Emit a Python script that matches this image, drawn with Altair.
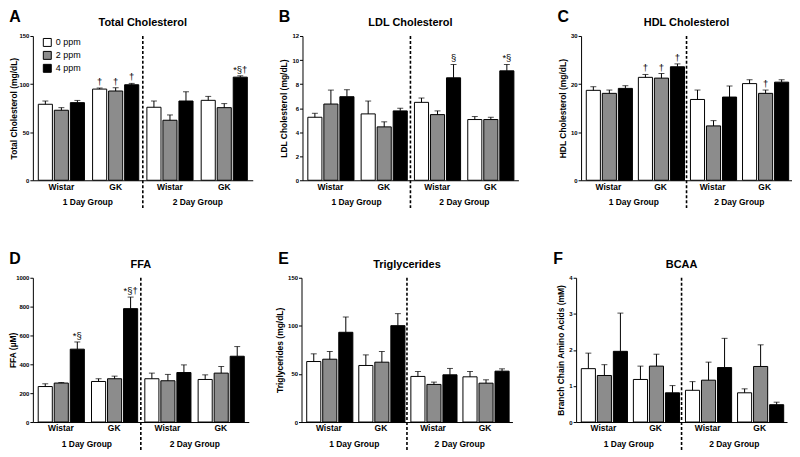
import altair as alt
import pandas as pd

# ---------------- data ----------------
groups = ["W1", "G1", "W2", "G2"]          # Wistar / GK in the 1 Day and 2 Day groups
doses = ["0 ppm", "2 ppm", "4 ppm"]
days = ["1 Day Group", "2 Day Group"]

tc_mean = [79.0, 72.8, 80.7, 94.8, 92.8, 99.3, 75.9, 62.4, 82.4, 83.1, 75.5, 107.2]
tc_upper = [82.4, 75.5, 83.0, 95.9, 96.2, 100.7, 82.4, 67.9, 92.0, 87.2, 79.7, 108.6]
tc_note = ["", "", "", "†", "†", "†", "", "", "", "", "", "*§†"]

ldl_mean = [5.24, 6.34, 6.95, 5.52, 4.44, 5.77, 6.48, 5.46, 8.52, 5.05, 5.05, 9.10]
ldl_upper = [5.57, 7.50, 7.53, 6.59, 4.86, 5.99, 6.84, 5.77, 9.63, 5.30, 5.24, 9.63]
ldl_note = ["", "", "", "", "", "", "", "", "§", "", "", "*§"]

hdl_mean = [18.7, 18.07, 19.1, 21.4, 21.24, 23.6, 16.8, 11.3, 17.3, 20.1, 18.07, 20.4]
hdl_upper = [19.45, 18.76, 19.66, 22.0, 22.2, 24.2, 18.76, 12.4, 19.6, 20.9, 18.76, 20.9]
hdl_note = ["", "", "", "†", "†", "†", "", "", "", "", "†", ""]

ffa_mean = [246, 270, 505, 281, 300, 786, 300, 286, 343, 295, 339, 456]
ffa_upper = [265, 274, 555, 300, 318, 866, 339, 330, 396, 327, 385, 523]
ffa_note = ["", "", "*§", "", "", "*§†", "", "", "", "", "", ""]

tg_mean = [62.9, 65.3, 93.3, 58.8, 62.2, 100.2, 47.4, 39.1, 49.1, 47.0, 40.4, 52.9]
tg_upper = [70.9, 73.3, 109.2, 69.8, 73.3, 112.7, 52.5, 41.5, 55.7, 52.5, 43.9, 55.3]
tg_note = [""] * 12

bcaa_mean = [1.48, 1.29, 1.96, 1.18, 1.55, 0.81, 0.88, 1.16, 1.51, 0.81, 1.54, 0.48]
bcaa_upper = [1.91, 1.59, 3.02, 1.55, 1.88, 1.01, 1.12, 1.66, 2.32, 0.92, 2.14, 0.55]
bcaa_note = [""] * 12

FONT = "Liberation Sans"
H = 145
fill_colors = ["white", "#8c8c8c", "black"]


def panel(letter, title, ytitle, ymax, ystep, means, uppers, notes, width, legend=False, tpad=3):
    rows = []
    i = 0
    for g in groups:
        for d in doses:
            rows.append({"group": g, "dose": d, "mean": means[i], "upper": uppers[i], "note": notes[i]})
            i += 1
    df = pd.DataFrame(rows)

    xscale = alt.Scale(domain=groups, paddingInner=0.15, paddingOuter=0.1)
    xoff = alt.XOffset("dose:N", sort=doses, scale=alt.Scale(domain=doses, paddingInner=0.12))
    yscale = alt.Scale(domain=[0, ymax], nice=False)
    ticks = [ystep * k for k in range(int(round(ymax / ystep)) + 1)]

    x_main = alt.X("group:N", sort=groups, scale=xscale,
                   axis=alt.Axis(title=None,
                                 labelExpr="(datum.value == 'W1' || datum.value == 'W2') ? 'Wistar' : 'GK'",
                                 ticks=False, labelAngle=0, labelFontSize=8.5, labelFontWeight="bold",
                                 labelPadding=2, domainColor="black", labelColor="black"))
    y_axis = alt.Axis(title=ytitle, values=ticks, format="d", grid=False, tickSize=3, labelFontSize=6,
                      labelFontWeight="bold", labelPadding=1, labelOverlap=False,
                      titleFontSize=8.5, titleFontWeight="bold", titlePadding=tpad,
                      domainColor="black", tickColor="black", labelColor="black",
                      titleColor="black")

    if legend:
        leg = alt.Legend(title=None, orient="none", legendX=10, legendY=2, symbolType="square",
                         symbolSize=64, symbolStrokeColor="black", symbolStrokeWidth=1,
                         symbolOpacity=1, labelFontSize=9, labelColor="black", rowPadding=0,
                         labelFont=FONT)
    else:
        leg = None

    base = alt.Chart(df)
    bars = base.mark_bar(stroke="black", strokeWidth=1).encode(
        x=x_main, xOffset=xoff,
        y=alt.Y("mean:Q", scale=yscale, axis=y_axis),
        fill=alt.Fill("dose:N", sort=doses, scale=alt.Scale(domain=doses, range=fill_colors), legend=leg),
    )
    err = base.mark_rule(color="black", strokeWidth=1).encode(
        x=x_main, xOffset=xoff, y=alt.Y("mean:Q", scale=yscale, axis=y_axis), y2="upper:Q")
    cap = base.mark_tick(color="black", thickness=1, size=6).encode(
        x=x_main, xOffset=xoff, y=alt.Y("upper:Q", scale=yscale, axis=y_axis))
    ann = base.mark_text(baseline="bottom", dy=-1, fontSize=9.5, color="black").encode(
        x=x_main, xOffset=xoff, y=alt.Y("upper:Q", scale=yscale, axis=y_axis), text="note:N")
    inner = alt.layer(bars, err, cap, ann)

    dscale = alt.Scale(domain=days, paddingInner=0, paddingOuter=0)
    day_df = pd.DataFrame({"day": days})
    day_text = alt.Chart(day_df).mark_text(fontSize=8.5, fontWeight="bold", baseline="middle",
                                           color="black").encode(
        x=alt.X("day:N", scale=dscale, axis=None), y=alt.value(H + 22), text="day:N")
    split = alt.Chart(pd.DataFrame({"day": [days[1]]})).mark_rule(
        color="black", strokeWidth=1.6, strokeDash=[3, 2]).encode(
        x=alt.X("day:N", scale=dscale, axis=None, bandPosition=0),
        y=alt.value(0), y2=alt.value(H + 28))
    day_layer = alt.layer(day_text, split)

    head = pd.DataFrame({"letter": [letter], "title": [title]})
    let = alt.Chart(head).mark_text(
        fontSize=16, fontWeight="bold", align="center", baseline="middle", color="black").encode(
        text="letter:N", x=alt.value(-18), y=alt.value(-19))
    ttl = alt.Chart(head).mark_text(
        fontSize=11, fontWeight="bold", align="center", baseline="middle", color="black").encode(
        text="title:N", x=alt.value(width / 2), y=alt.value(-13))

    return alt.layer(inner, day_layer, let, ttl).resolve_scale(x="independent").properties(
        width=width, height=H)


A = panel("A", "Total Cholesterol", "Total Cholesterol (mg/dL)", 150, 50, tc_mean, tc_upper, tc_note, 221,
          legend=True, tpad=0)
B = panel("B", "LDL Cholesterol", "LDL Cholesterol (mg/dL)", 12, 2, ldl_mean, ldl_upper, ldl_note, 217)
C = panel("C", "HDL Cholesterol", "HDL Cholesterol (mg/dL)", 30, 10, hdl_mean, hdl_upper, hdl_note, 212)
D = panel("D", "FFA", "FFA (µM)", 1000, 200, ffa_mean, ffa_upper, ffa_note, 217, tpad=-2)
E = panel("E", "Triglycerides", "Triglycerides (mg/dL)", 150, 50, tg_mean, tg_upper, tg_note, 212)
F = panel("F", "BCAA", "Branch Chain Amino Acids (mM)", 4, 1, bcaa_mean, bcaa_upper, bcaa_note, 212)

row1 = alt.hconcat(
    alt.hconcat(A, B, spacing=26).resolve_scale(fill="independent").resolve_legend(fill="independent"),
    C, spacing=39).resolve_scale(fill="independent").resolve_legend(fill="independent")
row2 = alt.hconcat(
    alt.hconcat(D, E, spacing=26).resolve_scale(fill="independent").resolve_legend(fill="independent"),
    F, spacing=41).resolve_scale(fill="independent").resolve_legend(fill="independent")

chart = alt.vconcat(row1, row2, spacing=42).resolve_scale(fill="independent").resolve_legend(
    fill="independent").properties(padding=0, background="white").configure(
    font=FONT).configure_view(stroke=None)

chart.save("out.html", embed_options={"renderer": "svg", "actions": False})
